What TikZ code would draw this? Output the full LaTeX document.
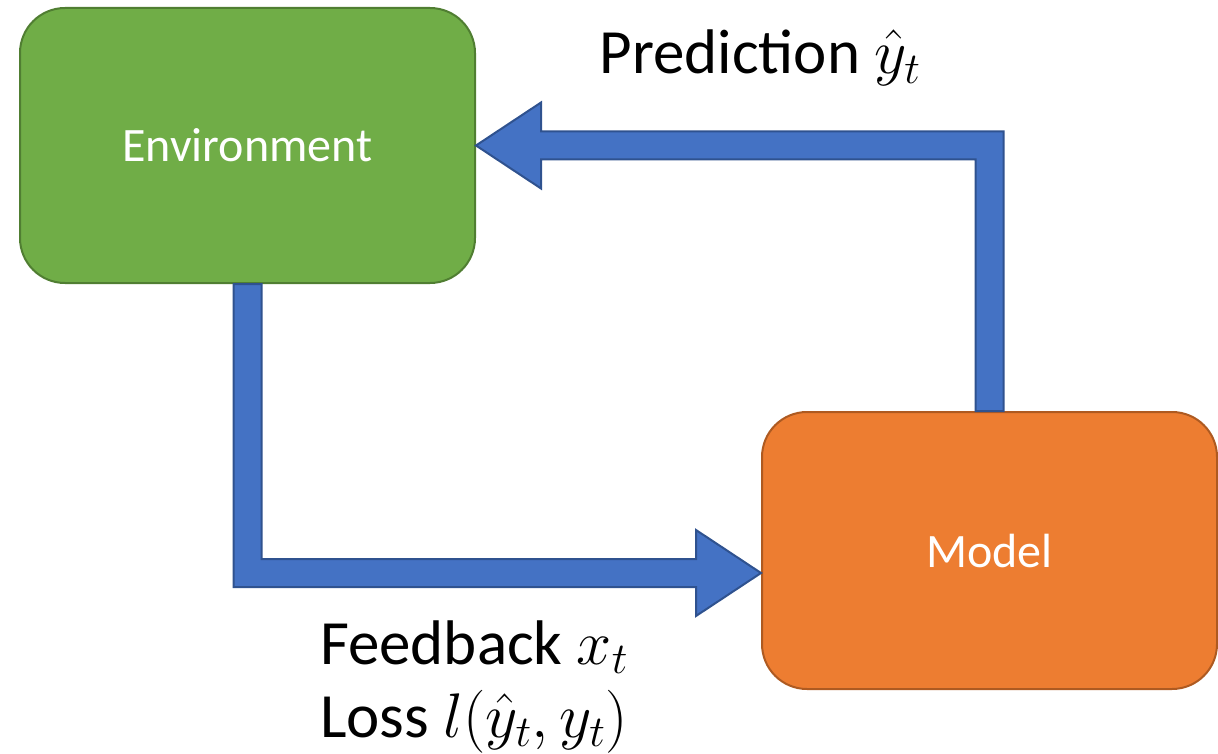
\RequirePackage{fix-cm}
\documentclass[tikz,border=0pt]{standalone}
\usepackage{fontspec}
\setmainfont{Carlito}
\usetikzlibrary{calc}
\definecolor{envfill}{HTML}{70AD47}
\definecolor{envline}{HTML}{507E32}
\definecolor{modfill}{HTML}{ED7D31}
\definecolor{modline}{HTML}{AE5A21}
\definecolor{arrfill}{HTML}{4472C4}
\definecolor{arrline}{HTML}{2F528F}
\tikzset{
  box/.style={rounded corners=45pt, line width=2pt, minimum width=455pt,
    minimum height=275pt, text=white, font=\fontsize{48}{58}\selectfont},
  blockarrow/.style={fill=arrfill, draw=arrline, line width=2pt, line join=miter},
  lbl/.style={font=\fontsize{63}{73}\selectfont, align=center, inner sep=0pt}
}
\begin{document}
\begin{tikzpicture}[x=1pt,y=-1pt]
\useasboundingbox (0,0) rectangle (1218,754);

% the two blocks
\node[box, fill=envfill, draw=envline] (env) at (247.5,145.5) {Environment};
\node[box, fill=modfill, draw=modline, minimum height=277pt] (model) at (989.5,550.5) {Model};

% bend points of the block arrows
\coordinate (pc) at (model.north |- env.east);
\coordinate (ft) at ($(model.west)+(0,22.5)$);
\coordinate (bc) at (env.south |- ft);

% Model -> Environment
\path[blockarrow] ($(model.north)+(14,0)$) -- ($(pc)+(14,-14)$)
  -- ($(env.east)+(65,-14)$) -- ($(env.east)+(65,-43)$) -- (env.east)
  -- ($(env.east)+(65,43)$) -- ($(env.east)+(65,14)$)
  -- ($(pc)+(-14,14)$) -- ($(model.north)+(-14,0)$) -- cycle;

% Environment -> Model
\path[blockarrow] ($(env.south)+(-14,0)$) -- ($(bc)+(-14,14)$)
  -- ($(ft)+(-65,14)$) -- ($(ft)+(-65,43)$) -- (ft)
  -- ($(ft)+(-65,-43)$) -- ($(ft)+(-65,-14)$)
  -- ($(bc)+(14,-14)$) -- ($(env.south)+(14,0)$) -- cycle;

% labels
\node[lbl] (pred) at (760,58) {Prediction $\hat{y}_t$};
\node[lbl] (fb) at (474,687) {Feedback $x_t$\\Loss $l(\hat{y}_t, y_t)$};
\end{tikzpicture}
\end{document}
